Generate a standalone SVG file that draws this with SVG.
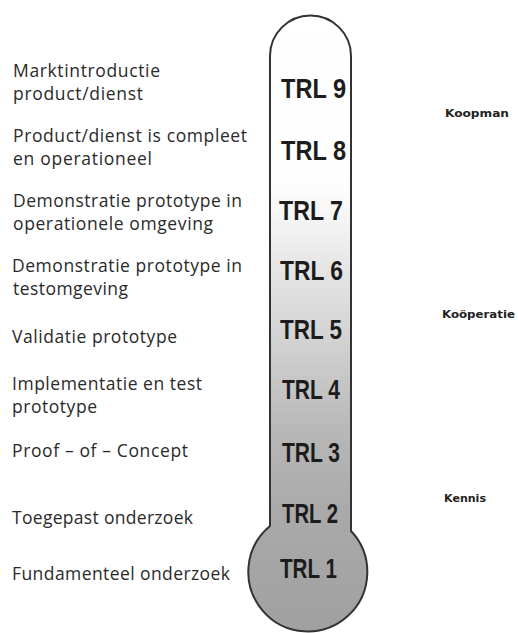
<svg xmlns="http://www.w3.org/2000/svg" width="518" height="633" viewBox="0 0 518 633">
<style>
.lbl{font-family:"Open Sans","Liberation Sans",sans-serif;font-size:17.5px;fill:#2a2a2a}
.trl{font-family:"Liberation Sans",Arial,sans-serif;font-weight:bold;font-size:28px;fill:#1c1c1c}
.side{font-family:"DejaVu Sans","Liberation Sans",sans-serif;font-weight:bold;font-size:10.5px;fill:#222}
</style>
<defs>
<linearGradient id="fill" x1="0" y1="0" x2="0" y2="633" gradientUnits="userSpaceOnUse">
<stop offset="0" stop-color="#ffffff"/>
<stop offset="0.3" stop-color="#fdfdfd"/>
<stop offset="0.42" stop-color="#e6e6e6"/>
<stop offset="0.55" stop-color="#d0d0d0"/>
<stop offset="0.68" stop-color="#b8b8b8"/>
<stop offset="0.8" stop-color="#aaaaaa"/>
<stop offset="1" stop-color="#a0a0a0"/>
</linearGradient>
</defs>
<rect width="518" height="633" fill="#ffffff"/>
<g id="thermometer">
<path d="M270,526 L270,56 A40.5,40.5 0 0 1 351,56 L351,531 A59.5,59.5 0 1 1 270,526 Z" fill="url(#fill)" stroke="#333" stroke-width="2"/>
<text class="trl" x="281" y="98" textLength="65" lengthAdjust="spacingAndGlyphs">TRL 9</text>
<text class="trl" x="281" y="160" textLength="65" lengthAdjust="spacingAndGlyphs">TRL 8</text>
<text class="trl" x="279" y="220" textLength="64" lengthAdjust="spacingAndGlyphs">TRL 7</text>
<text class="trl" x="280" y="280" textLength="63" lengthAdjust="spacingAndGlyphs">TRL 6</text>
<text class="trl" x="280" y="339" textLength="62" lengthAdjust="spacingAndGlyphs">TRL 5</text>
<text class="trl" x="282" y="399" textLength="58" lengthAdjust="spacingAndGlyphs">TRL 4</text>
<text class="trl" x="282" y="462" textLength="58" lengthAdjust="spacingAndGlyphs">TRL 3</text>
<text class="trl" x="282" y="523" textLength="56" lengthAdjust="spacingAndGlyphs">TRL 2</text>
<text class="trl" x="280" y="578" textLength="57" lengthAdjust="spacingAndGlyphs">TRL 1</text>
</g>
<g id="label-trl9">
<text class="lbl" x="13" y="77" textLength="147" lengthAdjust="spacing">Marktintroductie</text>
<text class="lbl" x="13" y="100" textLength="130" lengthAdjust="spacing">product/dienst</text>
</g>
<g id="label-trl8">
<text class="lbl" x="13" y="142" textLength="234" lengthAdjust="spacing">Product/dienst is compleet</text>
<text class="lbl" x="13" y="165" textLength="139" lengthAdjust="spacing">en operationeel</text>
</g>
<g id="label-trl7">
<text class="lbl" x="13" y="207" textLength="229" lengthAdjust="spacing">Demonstratie prototype in</text>
<text class="lbl" x="13" y="230" textLength="200" lengthAdjust="spacing">operationele omgeving</text>
</g>
<g id="label-trl6">
<text class="lbl" x="12" y="272" textLength="230" lengthAdjust="spacing">Demonstratie prototype in</text>
<text class="lbl" x="13" y="295" textLength="115" lengthAdjust="spacing">testomgeving</text>
</g>
<g id="label-trl5">
<text class="lbl" x="12" y="343" textLength="165" lengthAdjust="spacing">Validatie prototype</text>
</g>
<g id="label-trl4">
<text class="lbl" x="12" y="390" textLength="190" lengthAdjust="spacing">Implementatie en test</text>
<text class="lbl" x="12" y="413" textLength="85" lengthAdjust="spacing">prototype</text>
</g>
<g id="label-trl3">
<text class="lbl" x="12" y="457" textLength="176" lengthAdjust="spacing">Proof – of – Concept</text>
</g>
<g id="label-trl2">
<text class="lbl" x="12" y="524" textLength="181" lengthAdjust="spacing">Toegepast onderzoek</text>
</g>
<g id="label-trl1">
<text class="lbl" x="12" y="580" textLength="218" lengthAdjust="spacing">Fundamenteel onderzoek</text>
</g>
<g id="side-koopman">
<text class="side" x="445" y="117" textLength="64" lengthAdjust="spacingAndGlyphs">Koopman</text>
</g>
<g id="side-kooperatie">
<text class="side" x="442" y="318" textLength="73" lengthAdjust="spacingAndGlyphs">Koöperatie</text>
</g>
<g id="side-kennis">
<text class="side" x="444" y="502" textLength="42" lengthAdjust="spacingAndGlyphs">Kennis</text>
</g>
</svg>
